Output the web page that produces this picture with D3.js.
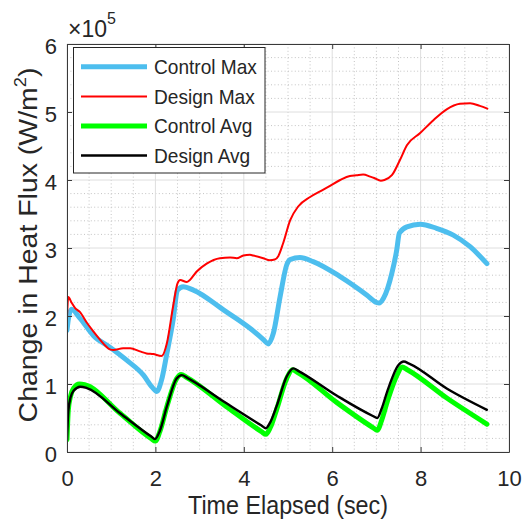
<!DOCTYPE html>
<html>
<head>
<meta charset="utf-8">
<script src="https://cdn.jsdelivr.net/npm/d3@7"></script>
<style>
  html, body { margin: 0; padding: 0; background: #fff; }
  svg { display: block; }
  text { font-family: "Liberation Sans", Arial, Helvetica, sans-serif; fill: #262626; }
</style>
</head>
<body>
<svg id="chart" width="522" height="527"></svg>
<script>
// Heat-flux change over time: [time (s), value (x1e5 W/m^2)]
const controlMax = [
  [0, 1.79], [0.03, 1.95], [0.1, 2.1], [0.29, 1.97], [0.6, 1.71], [0.97, 1.54],
  [1.35, 1.35], [1.73, 1.13], [1.93, 0.95], [2.03, 0.89], [2.14, 1.06], [2.26, 1.45],
  [2.4, 1.94], [2.5, 2.38], [2.63, 2.43], [2.86, 2.38], [3.54, 2.09], [4.14, 1.82],
  [4.45, 1.65], [4.55, 1.59], [4.67, 1.75], [4.82, 2.28], [4.97, 2.75], [5.05, 2.83],
  [5.27, 2.86], [5.57, 2.8], [6.18, 2.58], [6.78, 2.31], [7.0, 2.2], [7.06, 2.19],
  [7.16, 2.26], [7.35, 2.63], [7.46, 2.97], [7.52, 3.22], [7.69, 3.31], [7.99, 3.35],
  [8.36, 3.29], [8.74, 3.19], [9.12, 3.02], [9.5, 2.77]
];
const designMax = [
  [0, 1.97], [0.03, 2.28], [0.1, 2.2], [0.18, 2.12], [0.29, 2.06], [0.45, 1.9],
  [0.6, 1.77], [0.75, 1.65], [0.97, 1.51], [1.05, 1.5], [1.27, 1.525], [1.43, 1.525],
  [1.65, 1.48], [1.8, 1.45], [1.95, 1.44], [2.14, 1.41], [2.26, 1.6], [2.4, 2.14],
  [2.5, 2.48], [2.56, 2.53], [2.71, 2.5], [2.78, 2.53], [2.93, 2.65], [3.16, 2.77],
  [3.46, 2.85], [3.69, 2.86], [3.84, 2.85], [3.99, 2.89], [4.14, 2.9], [4.21, 2.89],
  [4.44, 2.85], [4.59, 2.82], [4.7, 2.83], [4.78, 2.88], [4.89, 3.07], [5.05, 3.41],
  [5.23, 3.61], [5.5, 3.75], [5.8, 3.86], [5.91, 3.9], [6.18, 4.0], [6.4, 4.06],
  [6.55, 4.07], [6.7, 4.08], [6.86, 4.05], [6.95, 4.03], [7.1, 3.99], [7.18, 4.0],
  [7.35, 4.07], [7.53, 4.29], [7.69, 4.51], [7.99, 4.69], [8.29, 4.88], [8.59, 5.04],
  [8.89, 5.12], [9.12, 5.13], [9.34, 5.09], [9.51, 5.05]
];
const controlAvg = [
  [0, 0.18], [0.03, 0.62], [0.08, 0.82], [0.15, 0.94], [0.28, 1.0], [0.4, 0.99],
  [1.2, 0.57], [1.9, 0.2], [2.0, 0.16], [2.1, 0.3], [2.26, 0.67], [2.48, 1.08],
  [2.58, 1.14], [2.7, 1.1], [3.6, 0.67], [4.4, 0.3], [4.5, 0.26], [4.6, 0.36],
  [4.74, 0.62], [4.97, 1.08], [5.1, 1.21], [5.22, 1.17], [6.1, 0.73], [6.92, 0.36],
  [7.02, 0.32], [7.12, 0.47], [7.25, 0.75], [7.48, 1.15], [7.58, 1.25], [7.7, 1.21],
  [8.6, 0.79], [9.5, 0.41]
];
const designAvg = [
  [0, 0.18], [0.03, 0.6], [0.08, 0.8], [0.15, 0.9], [0.3, 0.96], [0.45, 0.94],
  [1.2, 0.57], [1.9, 0.23], [1.99, 0.19], [2.1, 0.31], [2.26, 0.67], [2.48, 1.08],
  [2.6, 1.13], [2.72, 1.09], [3.6, 0.72], [4.4, 0.39], [4.5, 0.35], [4.6, 0.44],
  [4.74, 0.67], [4.97, 1.11], [5.12, 1.23], [5.24, 1.19], [6.1, 0.83], [6.92, 0.53],
  [7.02, 0.5], [7.12, 0.64], [7.25, 0.9], [7.5, 1.28], [7.62, 1.33], [7.74, 1.3],
  [8.6, 0.93], [9.5, 0.62]
];

const seriesNames = ["Control Max", "Design Max", "Control Avg", "Design Avg"];
const xTicks = [0, 2, 4, 6, 8, 10];
const yTicks = [0, 1, 2, 3, 4, 5, 6];
const xLabel = "Time Elapsed (sec)";
const yLabel = "Change in Heat Flux (W/m";
const exponentBase = "\u00D710";
const exponentPower = "5";

const svg = d3.select("#chart");
const plotL = 67, plotR = 509, plotT = 44, plotB = 452;
const x = d3.scaleLinear().domain([0, 10]).range([plotL, plotR]);
const y = d3.scaleLinear().domain([0, 6]).range([plotB, plotT]);

const styles = [
  { data: controlMax, color: "#4DBEEE", width: 5 },
  { data: designMax, color: "#FF0000", width: 2 },
  { data: controlAvg, color: "#00FF00", width: 5 },
  { data: designAvg, color: "#000000", width: 2.4 }
];

// minor grid (dotted)
const xMinor = d3.range(0, 10.001, 0.5).filter(v => Math.abs(v / 2 - Math.round(v / 2)) > 1e-6);
const yMinor = d3.range(0, 6.001, 0.2).filter(v => Math.abs(v - Math.round(v)) > 1e-6);
const grid = svg.append("g");
grid.append("g").selectAll("line").data(xMinor).join("line")
  .attr("x1", d => x(d)).attr("x2", d => x(d)).attr("y1", plotT).attr("y2", plotB)
  .attr("stroke", "#c4c4c4").attr("stroke-width", 1).attr("stroke-dasharray", "1,2.4");
grid.append("g").selectAll("line").data(yMinor).join("line")
  .attr("y1", d => y(d)).attr("y2", d => y(d)).attr("x1", plotL).attr("x2", plotR)
  .attr("stroke", "#c4c4c4").attr("stroke-width", 1).attr("stroke-dasharray", "1,2.4");
// major grid (solid)
grid.append("g").selectAll("line").data(xTicks).join("line")
  .attr("x1", d => x(d)).attr("x2", d => x(d)).attr("y1", plotT).attr("y2", plotB)
  .attr("stroke", "#dedede").attr("stroke-width", 1);
grid.append("g").selectAll("line").data(yTicks).join("line")
  .attr("y1", d => y(d)).attr("y2", d => y(d)).attr("x1", plotL).attr("x2", plotR)
  .attr("stroke", "#dedede").attr("stroke-width", 1);

// curves
svg.append("clipPath").attr("id", "plotClip").append("rect")
  .attr("x", plotL).attr("y", plotT).attr("width", plotR - plotL).attr("height", plotB - plotT);
const line = d3.line().x(d => x(d[0])).y(d => y(d[1])).curve(d3.curveMonotoneX);
const curves = svg.append("g").attr("clip-path", "url(#plotClip)");
styles.forEach(s => {
  curves.append("path").attr("d", line(s.data)).attr("fill", "none")
    .attr("stroke", s.color).attr("stroke-width", s.width)
    .attr("stroke-linejoin", "round").attr("stroke-linecap", "round");
});

// axes
const axisColor = "#3a3a3a";
const intFmt = d3.format("d");
function styleAxis(g) {
  g.select(".domain").attr("stroke", axisColor).attr("stroke-width", 1).attr("fill", "none");
  g.selectAll(".tick line").attr("stroke", axisColor);
  g.selectAll(".tick text").attr("font-size", 22).attr("fill", "#262626")
    .attr("font-family", "Liberation Sans, Arial, sans-serif");
}
svg.append("g").attr("transform", `translate(0,${plotB})`)
  .call(d3.axisBottom(x).tickValues(xTicks).tickFormat(intFmt).tickSize(-5).tickSizeOuter(0).tickPadding(18))
  .call(styleAxis);
svg.append("g").attr("transform", `translate(0,${plotT})`)
  .call(d3.axisTop(x).tickValues(xTicks).tickSize(-5).tickSizeOuter(0).tickFormat(""))
  .call(styleAxis);
const yAxisG = svg.append("g").attr("transform", `translate(${plotL},0)`)
  .call(d3.axisLeft(y).tickValues(yTicks).tickFormat(intFmt).tickSize(-5).tickSizeOuter(0).tickPadding(10))
  .call(styleAxis);
yAxisG.selectAll(".tick text").attr("dy", "0.45em");
svg.append("g").attr("transform", `translate(${plotR},0)`)
  .call(d3.axisRight(y).tickValues(yTicks).tickSize(-5).tickSizeOuter(0).tickFormat(""))
  .call(styleAxis);

// exponent label
const expo = svg.append("text").attr("x", plotL + 1).attr("y", 37).attr("font-size", 23);
expo.append("tspan").text(exponentBase);
expo.append("tspan").attr("font-size", 16).attr("dy", -13).text(exponentPower);

// x label
const xl = svg.append("text").attr("text-anchor", "middle").attr("font-size", 26).text(xLabel);
const xlw = xl.node().getComputedTextLength();
xl.attr("transform", `translate(${(plotL + plotR) / 2},514) scale(${200 / xlw},1)`);

// y label
const yl = svg.append("text").attr("text-anchor", "middle").attr("font-size", 26.5);
yl.append("tspan").text(yLabel);
yl.append("tspan").attr("font-size", 17).attr("dy", -11).text("2");
yl.append("tspan").attr("dy", 11).text(")");
const ylw = yl.node().getComputedTextLength();
yl.attr("transform", `translate(37,${(plotT + plotB) / 2 - 3}) rotate(-90) scale(${355 / ylw},1)`);

// legend
const legend = svg.append("g");
legend.append("rect").attr("x", 73.5).attr("y", 47.5).attr("width", 191.5).attr("height", 125.5)
  .attr("fill", "#fff").attr("stroke", "#262626").attr("stroke-width", 1);
const rowY = [66.7, 96.5, 126, 155.5];
let legendScale = 1;
styles.forEach((s, i) => {
  legend.append("line").attr("x1", 81).attr("x2", 147).attr("y1", rowY[i]).attr("y2", rowY[i])
    .attr("stroke", s.color).attr("stroke-width", s.width);
  const t = legend.append("text").attr("font-size", 20.5).attr("dy", "0.36em").text(seriesNames[i]);
  if (i === 0) legendScale = 103 / t.node().getComputedTextLength();
  t.attr("transform", `translate(154,${rowY[i]}) scale(${legendScale},1)`);
});
</script>
</body>
</html>
